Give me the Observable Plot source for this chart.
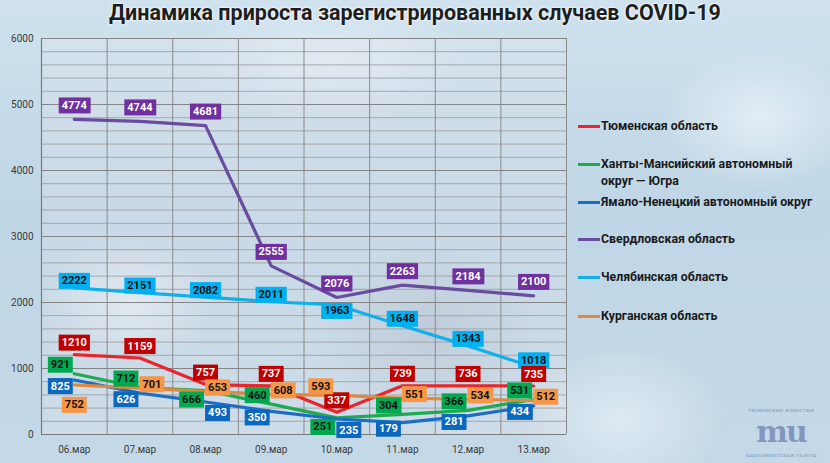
<!DOCTYPE html>
<html>
<head>
<meta charset="utf-8">
<script src="https://cdn.jsdelivr.net/npm/d3@7"></script>
<script src="https://cdn.jsdelivr.net/npm/@observablehq/plot@0.6"></script>
<style>
  html, body { margin: 0; padding: 0; }
  #wrap {
    position: relative; width: 830px; height: 463px; overflow: hidden;
    font-family: Roboto, "Noto Sans", sans-serif;
    background:
      radial-gradient(ellipse 120px 90px at 130px 300px, rgba(255,255,255,0.45), rgba(255,255,255,0) 70%),
      radial-gradient(ellipse 160px 120px at 430px 330px, rgba(120,120,140,0.18), rgba(255,255,255,0) 70%),
      radial-gradient(ellipse 150px 110px at 620px 420px, rgba(255,255,255,0.45), rgba(255,255,255,0) 70%),
      radial-gradient(ellipse 140px 100px at 760px 120px, rgba(255,255,255,0.5), rgba(255,255,255,0) 70%),
      radial-gradient(ellipse 200px 90px at 330px 60px, rgba(255,255,255,0.35), rgba(255,255,255,0) 70%),
      linear-gradient(180deg, #cfe2ee 0%, #bfd6e6 45%, #c4d9e7 100%);
  }
  #title {
    position: absolute; left: 0; top: 0px; width: 830px; text-align: center;
    font: bold 21.5px Roboto, sans-serif; color: #1e1e1e;
    text-shadow: 0 0 3px #fff, 0 0 2px #fff;
  }
  #chart { position: absolute; left: 0; top: 0; }
  .leg { position: absolute; left: 578px; font: bold 12.3px Roboto, sans-serif; color: #1a1a1a; line-height: 17px; }
  .leg .sw { position: absolute; left: 0; width: 22px; height: 3px; top: 7px; }
  .leg .tx { position: absolute; left: 23px; white-space: nowrap; }
  #logo { position: absolute; left: 738px; top: 406px; width: 86px; text-align: center; color: rgba(110,130,175,0.75); font-family: "DejaVu Serif", serif; }
  #logo .s { font-size: 6px; line-height: 7px; height: 7px; }
  #logo .m { font-size: 30px; font-weight: bold; line-height: 38px; height: 38px; letter-spacing: -2px; }
</style>
</head>
<body>
<div id="wrap">
  <div id="chart"></div>
  <div id="title">Динамика прироста зарегистрированных случаев COVID-19</div>
  <div id="legend"></div>
  <div id="logo"><div class="s">тюменские известия</div><div class="m">mu</div><div class="s">парламентская газета</div></div>
</div>
<script>
// ---- data ----
const dates = ["06.мар", "07.мар", "08.мар", "09.мар", "10.мар", "11.мар", "12.мар", "13.мар"];
const seriesNames = [
  "Тюменская область",
  "Ханты-Мансийский автономный округ — Югра",
  "Ямало-Ненецкий автономный округ",
  "Свердловская область",
  "Челябинская область",
  "Курганская область"
];
const tyumen    = [1210, 1159, 757, 737, 337, 739, 736, 735];
const khmao     = [921, 712, 666, 460, 251, 304, 366, 531];
const yanao     = [825, 626, 493, 350, 235, 179, 281, 434];
const sverdlovsk = [4774, 4744, 4681, 2555, 2076, 2263, 2184, 2100];
const chelyabinsk = [2222, 2151, 2082, 2011, 1963, 1648, 1343, 1018];
const kurgan    = [752, 701, 653, 608, 593, 551, 534, 512];
const yTicks = [0, 1000, 2000, 3000, 4000, 5000, 6000];

// ---- styles ----
const lineColors = ["#e8262b", "#1faa4f", "#1c6ec5", "#6a4c9f", "#12b0ea", "#e2883c"];
const boxColors  = ["#c00000", "#00a84f", "#0a68bf", "#7030a0", "#00b0f0", "#f79646"];
const textColors = ["#ffffff", "#111111", "#ffffff", "#ffffff", "#111111", "#111111"];
const values = [tyumen, khmao, yanao, sverdlovsk, chelyabinsk, kurgan];
// candidate label offsets (px) per series, tried in order
const candidates = [
  [[0,-12],[-4,-12],[14,-3],[0,12]],
  [[-14,-9],[-14,9],[8,-8],[0,-12]],
  [[-14,6],[12,11],[0,16],[0,20]],
  [[0,-14],[0,14]],
  [[0,-7],[0,6],[0,-14]],
  [[0,20],[12,-4],[14,9],[-14,11],[-16,-9],[-16,5]]
];
const tolerance = [4, 4, 4, 4, 1, 4];
const placeOrder = [3, 4, 0, 1, 2, 5];

const W = 830, H = 463, mL = 41, mR = 264, mT = 38, mB = 29;
const xDomain = [-0.5, dates.length - 0.5];
const xs = d3.scaleLinear(xDomain, [mL, W - mR]);
const ys = d3.scaleLinear([0, 6000], [H - mB, mT]);

const rows = [];
values.forEach((arr, s) => arr.forEach((v, i) => rows.push({s, name: seriesNames[s], i, v})));

// ---- label placement (greedy collision avoidance) ----
const ctx = document.createElement("canvas").getContext("2d");
ctx.font = "bold 11px Roboto";
const BH = 16;
const placed = [];
const labels = [];
for (const s of placeOrder) {
  const TOL = tolerance[s];
  values[s].forEach((v, i) => {
    const w = ctx.measureText(String(v)).width + 6;
    const px = xs(i), py = ys(v);
    let chosen = null;
    for (const [dx, dy] of candidates[s]) {
      const b = {x0: px + dx - w/2, x1: px + dx + w/2, y0: py + dy - BH/2, y1: py + dy + BH/2};
      const hit = placed.some(p => Math.min(b.x1, p.x1) - Math.max(b.x0, p.x0) > TOL &&
                                   Math.min(b.y1, p.y1) - Math.max(b.y0, p.y0) > TOL);
      if (!hit) { chosen = {dx, dy, b}; break; }
    }
    if (!chosen) {
      const [dx, dy] = candidates[s][0];
      chosen = {dx, dy, b: {x0: px + dx - w/2, x1: px + dx + w/2, y0: py + dy - BH/2, y1: py + dy + BH/2}};
    }
    placed.push(chosen.b);
    labels.push({s, i, v, dx: chosen.dx, dy: chosen.dy});
  });
}

const minor = d3.range(0, 6001, 200).filter(v => v % 1000 !== 0);
const major = d3.range(0, 6001, 1000);
const vlines = d3.range(dates.length + 1).map(k => k - 0.5);

const marks = [
  Plot.frame({fill: "rgba(255,236,236,0.16)", stroke: null}),
  Plot.ruleY(minor, {stroke: "#9a9a9a", strokeWidth: 0.8}),
  Plot.ruleY(major, {stroke: "#858585", strokeWidth: 1}),
  Plot.ruleX(vlines, {stroke: "#8a8a8a", strokeWidth: 1}),
  Plot.ruleX([xDomain[0]], {stroke: "#7a7a7a", strokeWidth: 1.2}),
  Plot.ruleY([0], {stroke: "#7a7a7a", strokeWidth: 1.2}),
];
values.forEach((arr, s) => {
  marks.push(Plot.line(rows.filter(r => r.s === s), {
    x: "i", y: "v", stroke: lineColors[s], strokeWidth: 3.2, strokeLinejoin: "round", strokeLinecap: "round"
  }));
});
for (const lab of labels) {
  marks.push(Plot.text([lab], {
    x: "i", y: "v", text: d => String(d.v), dx: lab.dx, dy: lab.dy,
    fill: textColors[lab.s], fontWeight: "bold", fontSize: 11, fontFamily: "Roboto",
    ariaLabel: () => "lbl-" + lab.s
  }));
}

const chart = Plot.plot({
  width: W, height: H,
  marginLeft: mL, marginRight: mR, marginTop: mT, marginBottom: mB,
  style: {background: "transparent", fontFamily: "Roboto", fontSize: "10px", color: "#3a3a3a", overflow: "visible"},
  x: {domain: xDomain, ticks: d3.range(dates.length), tickFormat: i => dates[i], tickSize: 0, tickPadding: 11, label: null},
  y: {domain: [0, 6000], ticks: yTicks, tickFormat: d => String(d), tickSize: 0, tickPadding: 8, label: null},
  marks
});
document.getElementById("chart").appendChild(chart);

// boxes behind labels, sized from the rendered text
const labelTexts = new Set([
  ...chart.querySelectorAll('text[aria-label^="lbl-"]'),
  ...chart.querySelectorAll('g[aria-label^="lbl-"] text')
]);
labelTexts.forEach(t => {
  const lbl = t.getAttribute("aria-label") || t.parentNode.getAttribute("aria-label");
  const s = +lbl.slice(4);
  const bb = t.getBBox();
  const r = document.createElementNS("http://www.w3.org/2000/svg", "rect");
  const cy = bb.y + bb.height / 2;
  r.setAttribute("x", bb.x - 3);
  r.setAttribute("y", cy - BH / 2);
  r.setAttribute("width", bb.width + 6);
  r.setAttribute("height", BH);
  r.setAttribute("fill", boxColors[s]);
  r.setAttribute("stroke", "none");
  const tr = t.getAttribute("transform");
  if (tr) r.setAttribute("transform", tr);
  t.parentNode.insertBefore(r, t);
});

// legend
const legTops = [118, 156, 194, 231, 269, 308];
const legTexts = [
  "Тюменская область",
  "Ханты-Мансийский автономный<br>округ — Югра",
  "Ямало-Ненецкий автономный округ",
  "Свердловская область",
  "Челябинская область",
  "Курганская область"
];
const legend = document.getElementById("legend");
seriesNames.forEach((n, s) => {
  const d = document.createElement("div");
  d.className = "leg";
  d.style.top = legTops[s] + "px";
  d.innerHTML = `<div class="sw" style="background:${lineColors[s]}"></div><div class="tx">${legTexts[s]}</div>`;
  legend.appendChild(d);
});
</script>
</body>
</html>
